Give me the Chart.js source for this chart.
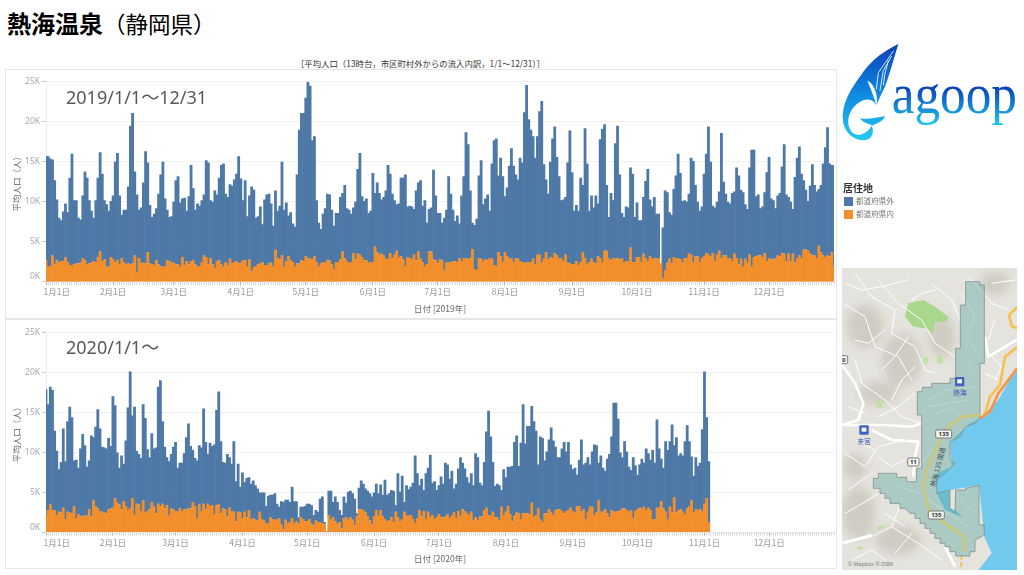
<!DOCTYPE html>
<html lang="ja">
<head>
<meta charset="utf-8">
<title>熱海温泉</title>
<script src="https://cdn.jsdelivr.net/npm/chart.js@4/dist/chart.umd.min.js"></script>
<style>
  html, body { margin: 0; padding: 0; background: #fff; }
  body { width: 1024px; height: 575px; position: relative; overflow: hidden; font-family: "Noto Sans CJK JP", sans-serif; }
  .abs { position: absolute; white-space: nowrap; }
  .panel { position: absolute; left: 5px; width: 832px; height: 250px; box-sizing: border-box; border: 1.5px solid #e6e6e6; }
  canvas { position: absolute; left: 5px; display: block; }
  .period { font-family: "Noto Sans", "Noto Sans CJK JP", sans-serif; font-size: 18px; color: #595959; line-height: 24px; }
  .swatch { position: absolute; left: 844px; width: 9px; height: 9px; }
  .legtext { font-size: 7.6px; color: #777; line-height: 10px; left: 856px; }
</style>
</head>
<body>
<div class="abs" style="left:7px;top:6px;line-height:34px;color:#000"><b style="font-size:24px">熱海温泉</b><span style="font-size:22.5px">（静岡県）</span></div>
<div class="abs" style="left:296px;top:57px;font-size:8.4px;line-height:12px;color:#333">［平均人口（13時台，市区町村外からの流入内訳，1/1～12/31）］</div>

<div class="panel" style="top:69px"></div>
<div class="panel" style="top:319px"></div>
<canvas id="chart2019" width="831" height="249" style="top:70px"></canvas>
<canvas id="chart2020" width="831" height="249" style="top:320px"></canvas>
<div class="abs period" style="left:66px;top:85px">2019/1/1〜12/31</div>
<div class="abs period" style="left:66px;top:335px">2020/1/1〜</div>

<!-- logo -->
<svg class="abs" style="left:835px;top:30px" width="189" height="130" viewBox="0 0 567 390">
  <defs>
    <linearGradient id="logoGrad" gradientUnits="userSpaceOnUse" x1="0" y1="40" x2="0" y2="335">
      <stop offset="0" stop-color="#0b3fb8"/><stop offset="0.5" stop-color="#0f86e0"/><stop offset="1" stop-color="#22cdf2"/>
    </linearGradient>
    <linearGradient id="textGrad" gradientUnits="userSpaceOnUse" x1="0" y1="175" x2="0" y2="292">
      <stop offset="0" stop-color="#0b45bb"/><stop offset="1" stop-color="#1fd0f2"/>
    </linearGradient>
  </defs>
  <path fill="url(#logoGrad)" d="M190 42 C150 62 115 85 85 125 L62 160 C82 150 98 148 108 160 C125 180 128 205 125 225 C135 200 140 190 150 170 C165 130 175 90 190 42 Z"/>
  <g fill="none" stroke="#fff" stroke-width="2.5">
    <path d="M176 62 L130 128 L124 178"/><path d="M170 78 L145 122 L135 182"/><path d="M160 92 L150 130 L145 166"/>
  </g>
  <path fill="url(#logoGrad)" d="M85 128 C45 175 18 225 24 275 C32 318 70 338 100 328 C112 320 118 305 110 287 C100 305 80 320 58 312 C35 298 35 262 50 240 C70 210 105 195 125 225 C115 200 108 172 85 128 Z"/>
  <path fill="url(#logoGrad)" d="M75 265 C95 270 130 262 150 258 C145 275 125 280 112 287 C100 280 85 280 75 265 Z"/>
  <text x="170" y="250" font-family="Liberation Serif, serif" font-size="172" textLength="376" lengthAdjust="spacingAndGlyphs" fill="url(#textGrad)">agoop</text>
</svg>

<!-- legend -->
<div class="abs" style="left:843px;top:181px;font-size:10px;line-height:13px;font-weight:bold;color:#333">居住地</div>
<div class="swatch" style="top:197px;background:#4e79a7"></div>
<div class="abs legtext" style="top:196px">都道府県外</div>
<div class="swatch" style="top:210px;background:#f28e2b"></div>
<div class="abs legtext" style="top:209px">都道府県内</div>

<!-- map -->
<svg class="abs" style="left:842px;top:268px" width="175" height="302" viewBox="21 24 525 906">
  <defs><filter id="soft"><feGaussianBlur stdDeviation="14"/></filter></defs>
  <rect x="21" y="24" width="525" height="906" fill="#e5e3dd"/>
  <g filter="url(#soft)" fill="#cfccc3">
    <ellipse cx="200" cy="300" rx="60" ry="80"/><ellipse cx="90" cy="200" rx="55" ry="65"/>
    <ellipse cx="320" cy="230" rx="40" ry="65"/><ellipse cx="130" cy="400" rx="60" ry="35"/>
    <ellipse cx="70" cy="760" rx="50" ry="80"/><ellipse cx="190" cy="840" rx="70" ry="45"/>
    <ellipse cx="480" cy="70" rx="45" ry="35"/><ellipse cx="60" cy="620" rx="35" ry="40"/>
  </g>
  <path fill="#72c9ee" d="M546 320 L490 420 L435 475 L405 490 L345 545 L350 620 L305 640 L305 700 L330 750 L385 772 L362 750 L345 745 L345 690 L432 676 L448 830 L470 880 L430 930 L546 930 Z"/>
  <path fill="#a9d88c" d="M210 170 L220 130 L265 120 L300 140 L340 170 L335 185 L300 185 L295 220 L270 205 L235 200 Z"/>
  <path fill="#c3e0a3" d="M265 292 h15 v18 h-15 z M305 288 h18 v22 h-18 z M125 422 h16 v22 h-16 z M125 800 l25 -6 v10 l-25 6 z M65 860 h18 v8 h-18 z"/>
  <g fill="none" stroke="#fff" stroke-width="3" stroke-linejoin="round">
    <path d="M60 40 L110 110 L180 150 L170 220 L240 260 L270 330 L300 340"/>
    <path d="M130 60 L190 130 L260 180 L300 250 L360 290"/>
    <path d="M25 130 L90 170 L120 260 L190 290 L230 360"/>
    <path d="M290 70 L350 120 L380 190 M400 50 L470 130 L520 150"/>
    <path d="M60 300 L80 370 L150 420 L200 470 L260 490"/>
    <path d="M30 580 L90 620 L130 560 L210 540 M40 690 L110 640 M30 760 L100 720 L130 700"/>
    <path d="M200 720 L170 800 L250 850 L320 900 M30 850 L110 830 L170 800"/>
    <path d="M470 290 L500 320 L480 360 M450 340 L490 360"/>
    <path d="M270 440 L340 430 L400 420 M290 470 L350 440 L380 470"/>
    <path d="M30 70 L80 90 L140 80 L220 60 M150 210 L100 250 L60 240 M220 230 L180 290 L140 330"/>
    <path d="M240 320 L200 360 L170 420 M130 470 L190 440 L240 400 M300 90 L260 100 L230 120"/>
    <path d="M40 440 L90 460 M130 590 L170 620 L210 600 M60 540 L120 570 M50 900 L110 870 L150 900"/>
    <path d="M230 820 L180 880 M150 760 L210 800 M470 70 L540 60 M480 180 L460 240"/>
    <path d="M280 420 L330 390 L420 380 M300 560 L250 620 M190 680 L260 700 L330 760 M280 720 L400 800 M365 710 L420 760"/>
    <path d="M380 100 L420 170 L390 230 L430 280 M395 300 L420 340"/>
  </g>
  <g fill="none" stroke="#fff" stroke-width="8" stroke-linejoin="round">
    <path d="M22 315 L60 370 L85 430 L70 480 L22 495"/>
    <path d="M22 495 L145 495 L230 500 L260 490"/>
    <path d="M110 510 L170 540 L250 545 L240 590 L235 650"/>
    <path d="M450 230 L460 290 L545 240"/>
    <path d="M22 850 L110 825 M330 860 L360 920"/>
  </g>
  <path fill="none" stroke="#f6c14e" stroke-width="8" d="M546 262 L510 290 L495 375 L465 410 L448 468"/>
  <path fill="none" stroke="#f6c14e" stroke-width="8" d="M546 142 L522 165 L530 198 L546 205"/>
  <path fill="none" stroke="#f8954a" stroke-width="8" d="M546 325 L490 400 L465 455 L435 475"/>
  <path fill="none" stroke="#f6c14e" stroke-width="6" stroke-dasharray="14 8" d="M380 885 L378 930"/>
  <path fill="rgba(100,170,165,0.45)" stroke="#86938f" stroke-width="2.5" d="M392 65 L435 65 L435 75 L448 75 L448 310 L435 310 L435 475 L420 490 L390 500 L375 530 L345 545 L345 600 L360 610 L330 640 L305 660 L305 700 L345 690 L345 745 L360 760 L362 690 L392 690 L392 685 L432 676 L432 795 L448 795 L448 825 L420 840 L420 875 L405 875 L405 888 L362 888 L362 875 L345 875 L345 860 L330 860 L330 850 L315 850 L315 835 L300 835 L300 820 L285 820 L285 805 L270 805 L270 790 L255 790 L255 775 L240 775 L240 760 L225 760 L210 745 L195 745 L195 730 L165 730 L165 715 L150 715 L150 700 L135 700 L135 685 L115 685 L115 655 L130 655 L130 640 L185 640 L185 652 L215 652 L215 665 L245 665 L245 625 L260 625 L260 465 L247 465 L247 395 L262 395 L262 382 L290 382 L290 370 L345 370 L345 355 L362 355 L362 265 L376 265 L376 135 L392 135 Z"/>
  <path fill="none" stroke="#c9c87e" stroke-width="9" stroke-linejoin="round" d="M435 465 L380 470 L340 500 L310 550 L275 630 L265 680 L280 745 L330 790 L385 830 L390 875"/>
  <g fill="#f4f4f0" stroke="#666" stroke-width="2.5">
    <rect x="302" y="510" width="48" height="24" rx="4"/><rect x="280" y="753" width="48" height="24" rx="4"/>
    <rect x="218" y="594" width="34" height="24" rx="4"/><rect x="12" y="287" width="26" height="24" rx="4"/>
  </g>
  <g font-family="Noto Sans, sans-serif" font-size="18" font-weight="bold" fill="#333" text-anchor="middle">
    <text x="326" y="528">135</text><text x="304" y="771">135</text><text x="235" y="612">11</text><text x="26" y="305">0</text>
  </g>
  <g fill="#4361c2">
    <rect x="360" y="351" width="28" height="28" rx="3"/><rect x="73" y="496" width="28" height="28" rx="3"/>
  </g>
  <g fill="#fff"><rect x="367" y="358" width="14" height="12"/><rect x="80" y="503" width="14" height="12"/></g>
  <g font-family="Noto Sans CJK JP, sans-serif" font-size="20" fill="#3d5bb8" text-anchor="middle">
    <text x="374" y="406">熱海</text><text x="87" y="552">来宮</text>
  </g>
  <text x="0" y="0" transform="translate(300,682) rotate(-75)" font-family="Noto Sans CJK JP, sans-serif" font-size="20" fill="#3f4f4c">熱海 135 国道</text>
  <text x="38" y="918" font-family="Noto Sans, sans-serif" font-size="16" fill="#777">© Mapbox © OSM</text>
</svg>

<script>
const monthDays2019 = [31, 28, 31, 30, 31, 30, 31, 31, 30, 31, 30, 31];
const monthDays2020 = [31, 29, 31, 30, 31, 30, 31, 31, 30, 31, 30, 31];
const yTicks = [0, 5, 10, 15, 20, 25];

// 合計の高さ（千人）
const total2019 = [
  15.7,15.7,15.4,15.3,12.7,10.3,8.0,7.7,8.8,9.8,8.7,13,16,10.2,10.2,8,7.8,10.8,13.8,13,10.2,8.9,8,10.2,13,16.2,13.5,10.2,9.7,8.9,10.1,
  10.8,15,16.1,10.8,8.4,9,9,11.9,19.5,21.1,13.8,10.9,9,9.3,12.4,16.3,14.9,9.6,8.1,8.5,9.2,11,13.4,15,10.4,9,8.1,8.2,
  10,12.7,13.2,9.9,10.4,10.5,8.9,10.7,14.6,11.7,9,9.8,9.5,10.2,10.9,15.2,14.9,10.2,10,11.4,10.9,13,14.6,14.8,11,10.6,12.2,12,12.8,13.5,15.7,
  12.9,10.2,12.7,8.2,10.8,11.9,11.5,8,8.2,9.4,7.2,10.3,10.9,11,9.8,7,11.4,8.9,9.5,15,9,9.9,8.3,8.7,7.3,6.9,13.4,19,21.1,21.1,
  23,25,24.5,17.7,18.2,10.2,7.4,6.6,8.5,9.2,11,10.9,9,7,8.6,8.6,10.6,11.1,12.1,9.2,9,8.5,9.3,10,14.1,16.1,10.7,10.1,10.4,8.6,8.9,
  13.6,11.1,12.4,11.1,10.3,10.6,11.4,14.6,13.5,11,10.2,9.7,9.8,13,13,13.4,9.4,9.5,9.4,9.1,11.4,12.4,12.7,9.5,10.2,7.4,9.1,9.3,14,10.8,
  8.6,8.6,7.4,8,9,13.2,11,9,7.6,8.3,7.3,10.8,13.2,18.7,17.2,11.4,7.4,7.1,7.9,13.3,15.2,9.7,10.4,10.9,8.9,14.8,17.7,17.9,13.3,15.5,13.2,
  10.7,11.8,14.5,16.7,14.5,13.4,12.8,15.5,14.9,21.2,24.6,20.3,19,18.2,15.5,18.2,21.3,22.6,14.7,12.8,11,15,17.9,19.4,15.6,13.2,10.2,10.3,10.6,14.9,18.9,
  13.7,8.9,9.6,8.9,13,12.1,19.2,14.8,8.9,10.8,9.3,10.8,9.8,17.8,19.1,19.7,12.1,8.1,11.1,10.2,17.3,19.5,13.4,8.6,8.1,9.4,9.3,14.3,13.5,8.1,
  9.9,7.7,7.7,10.6,12.6,14.1,10.3,9.4,10.6,8.5,8.5,2.3,6.8,11.4,11.2,8.7,8.4,11.6,13.3,16,13.6,10.1,10.2,10,11,15.5,15.1,12.1,10,8.9,9.4,
  13.5,16,19.4,15,9.5,9.3,10,11.3,18.6,12.5,11,10,9.8,11.1,11.3,14.3,13.3,11.5,11.2,9.7,9.1,14.3,16.5,16.5,10.7,10.9,9.2,9.4,11.2,13.7,
  15.6,10.4,10.2,9.2,10.8,11.1,14.4,17.2,10.9,10.6,10,9.1,13.1,15.5,16.9,13.5,12.7,11.5,10.1,12,14.7,12.1,11.3,11.6,12.1,14.8,16.8,19.3,14.8,14.6,14.6
];
const inside2019 = [
  2.7,2.0,2.0,3.3,2.2,2.7,2.5,2.6,2.6,3.1,2.5,2.1,2.1,2.2,2.3,2.3,2.4,3.0,2.7,2.2,2.3,2.4,2.6,2.5,3.1,3.8,2.6,2.8,1.9,1.9,3.1,
  2.8,2.5,2.7,2.2,3.0,2.5,2.2,2.3,2.2,2.3,3.3,1.2,3.0,2.3,2.4,2.3,3.7,2.3,2.2,2.1,2.7,2.2,2.0,1.9,1.9,2.7,2.6,2.4,
  2.4,2.2,2.2,1.9,3.1,2.1,2.6,2.2,2.6,2.7,2.2,1.9,2.0,2.5,3.3,3.1,2.2,3.0,2.2,1.7,2.6,2.7,2.2,1.9,2.5,2.1,2.9,2.3,2.5,2.6,2.3,
  2.4,2.7,2.7,2.0,2.8,1.3,1.8,2.0,2.2,2.3,2.5,2.1,2.1,2.3,2.4,2.0,4.0,3.0,2.8,3.3,1.9,2.6,3.2,2.7,2.5,1.9,2.3,2.3,2.7,2.6,
  3.2,3.0,2.9,2.8,3.2,2.5,1.9,2.3,2.5,2.4,2.7,2.7,2.2,1.6,2.5,2.5,2.8,3.8,3.0,2.6,2.3,2.5,3.6,2.8,3.5,3.4,3.1,2.7,2.7,2.4,2.5,
  2.4,4.4,3.7,3.4,3.5,3.3,2.8,2.9,3.6,3.0,3.4,3.9,3.1,3.2,2.8,2.0,3.1,3.0,2.8,3.4,2.7,3.8,2.9,2.5,2.0,2.2,3.8,3.8,2.8,2.7,
  2.3,2.8,2.7,1.4,2.4,2.5,2.4,2.6,2.6,2.5,3.0,2.6,3.0,2.9,2.9,3.0,4.1,1.6,1.5,3.0,2.9,2.6,2.8,2.7,3.0,2.9,2.1,2.0,3.7,3.2,2.5,
  3.7,3.2,3.0,2.9,2.4,3.0,2.9,2.6,2.5,2.4,2.4,2.5,2.5,2.9,2.2,3.4,3.4,2.4,2.9,3.7,2.8,3.1,3.0,3.6,3.3,2.9,3.0,2.6,3.4,2.4,2.3,
  2.2,2.2,2.6,2.1,2.5,3.7,3.0,2.2,2.5,2.9,2.5,2.3,3.2,3.0,2.5,3.9,3.9,2.9,2.7,3.0,2.9,3.0,2.8,3.0,2.4,2.6,2.6,4.3,2.5,2.5,
  3.1,3.1,2.5,3.5,3.0,2.6,3.2,2.8,3.0,3.0,3.0,2.3,0.5,1.5,2.4,2.9,2.3,3.1,2.9,3.0,2.8,2.4,3.0,3.0,3.5,3.4,2.4,3.2,3.2,2.5,3.0,
  3.2,3.6,3.4,3.2,3.6,2.6,3.4,3.9,3.0,3.3,3.3,2.9,3.0,2.6,3.5,3.0,2.2,2.9,1.9,2.9,2.4,3.4,1.9,3.1,3.2,3.3,3.3,3.1,3.6,2.6,
  3.0,2.8,2.9,2.9,3.3,3.2,3.6,3.5,2.6,3.5,2.6,3.5,2.4,3.0,3.3,3.0,4.0,4.1,3.9,3.6,3.3,3.3,3.0,4.5,3.7,3.3,3.1,3.3,3.2,3.7,2.0
];
const total2020 = [
  17.9,16,18.2,17.8,12.7,10.2,7.9,8.8,13,8.9,13.9,15.7,14.4,9,9.1,8.1,10.5,12.3,10.9,8.2,9,12.1,11.9,13.2,15.4,13,10.7,10.6,10.5,11.8,10.8,
  17,15.9,10,8.1,9.6,8.6,11.5,15.6,20.1,14.6,15.7,10.2,9.8,9.3,16,14.3,10.4,9.4,12.4,10.5,10.6,18.2,19,13.9,10.7,9.4,8.9,9.8,10.7,
  11.3,8.1,8.7,8.7,9.9,11.9,13.6,10.8,10.3,9.3,9,10.9,10.6,15.5,11.3,9.8,11.2,10.8,11,15.3,17.6,11.4,8.8,8.7,9.8,9.4,8.6,11.4,6.4,8.6,5.7,
  7.5,6.3,6.8,6.9,6.1,6.5,5.9,5.5,5,5,5,3.3,4.6,4.7,4.7,4.9,3.6,3.2,3.9,3.8,4.1,4.1,3.8,5.7,3.9,3.9,1.9,3.2,3.2,3.3,
  3.6,3.6,3.4,2.2,2.8,2.6,4.2,4.5,1.3,0.2,5.2,5.2,3.8,4.5,3.8,2.8,2.2,4.5,3.7,5.1,5.2,4.9,4.2,2.4,5.6,6.5,6.1,5.5,5.2,4.9,4.5,
  5,6.1,4.9,6,4.7,6.6,4.7,4.9,5.3,5.2,3.4,7.4,5.1,7.1,3.8,5.9,5.4,5.7,6.2,9.6,7.4,5.9,6.7,5.3,7.4,8.1,9.7,6.2,6.4,5.3,
  5.9,7,6.1,8.7,8.5,6.7,7.7,5.5,6.1,8,9.4,8.7,8,6.9,6.2,7.4,5.9,9.9,9.4,6.2,5.9,8.8,12.6,15.2,12,8.8,5.8,6.1,5.9,5.3,7.9,
  6.9,8.2,8.2,8.3,11.3,12.1,8.3,11.2,16,11.1,13.3,13.3,15.8,13.9,12.7,8.5,12,11.8,9,10.1,11.6,13.1,11.5,10.7,9.4,9.4,10.5,11.3,10.1,11.3,8.5,
  7.9,8.1,7.2,9.1,11.6,8.5,8.7,9.4,8.5,10.1,11,10.9,8.7,9.6,8.1,7.7,9.2,9.8,12,16.2,16.2,14.2,10,9.4,11.4,10.1,8.2,7.8,9.4,8.4,
  7.2,8.5,9.2,8.7,10.5,9.9,9.1,10.3,8.7,14.1,10.5,9.2,8.1,11.4,10.3,11.4,13.5,10.9,11.9,9.6,9.9,9.6,11.4,13.4,11.4,9.5,7.1,9.4,8.3,8.7,12.9,
  20.1,14.4,8.9
];
const inside2020 = [
  2.2,2.8,3.5,2.8,2.8,2.2,2.6,2.5,3.1,1.7,2.6,2.5,2.4,3.3,1.8,2.3,2.0,2.1,2.1,2.1,2.9,2.0,4.0,3.3,3.0,2.7,2.6,2.5,2.4,2.9,3.0,
  3.1,4.3,3.7,3.5,2.9,3.9,3.3,2.8,3.0,4.3,2.2,3.6,3.5,2.7,4.0,2.5,2.7,2.9,3.8,3.2,2.4,3.6,3.3,3.6,3.0,3.4,2.1,3.0,2.9,
  2.7,2.6,3.0,2.7,2.9,2.9,3.0,3.0,3.8,3.3,1.8,3.5,2.7,3.6,2.9,3.6,3.3,3.4,2.3,3.4,3.5,2.4,3.0,2.9,2.0,3.1,2.7,2.6,1.4,2.6,2.5,
  1.8,2.6,1.9,2.8,1.7,1.8,1.6,1.5,2.6,1.7,1.5,1.2,1.1,1.9,1.7,1.6,1.6,1.8,1.0,0.4,1.6,1.1,1.3,1.8,1.1,1.4,1.1,1.9,1.7,1.4,
  1.4,1.7,1.1,0.9,1.5,1.3,1.3,1.2,1.0,0.2,2.2,1.6,1.9,1.4,1.1,1.3,0.5,1.8,1.9,1.6,1.9,1.6,0.9,2.0,2.9,2.9,2.8,2.5,2.0,1.5,1.0,
  2.0,2.8,2.1,2.8,2.0,1.7,1.4,1.5,1.9,1.3,2.6,1.9,1.4,1.7,2.6,2.1,2.1,2.2,1.7,1.2,1.8,2.8,2.0,2.7,1.7,2.6,1.9,2.2,1.7,1.9,
  2.3,1.9,1.9,2.0,2.3,1.8,2.1,2.5,1.8,2.7,2.0,2.9,2.7,2.4,2.2,2.6,1.5,1.9,1.5,2.0,2.0,2.8,3.1,2.2,2.1,2.6,1.9,1.9,1.5,3.2,2.1,
  2.6,3.3,2.3,1.4,2.1,2.5,2.4,1.7,2.4,2.4,2.4,2.3,3.7,1.9,2.2,3.0,1.6,1.3,2.4,2.4,2.9,2.5,2.1,2.8,2.9,2.9,2.7,2.4,2.7,2.8,3.1,
  2.7,2.5,3.3,3.3,2.6,2.9,1.7,2.6,3.2,3.2,2.1,2.5,4.0,2.6,2.6,2.9,2.4,1.9,2.8,2.6,2.6,2.7,2.8,3.0,3.0,2.8,2.6,2.8,1.8,2.7,
  2.9,3.1,3.0,3.2,2.8,3.1,2.8,1.7,1.7,3.1,3.1,3.9,3.0,2.6,1.6,3.2,2.5,4.4,2.5,2.8,2.9,2.6,2.3,3.0,3.3,4.0,2.5,2.9,2.8,2.9,2.6,
  3.6,4.3,1.3
];

function makeDays(monthDays) {
  const days = [];
  monthDays.forEach((n, m) => {
    for (let d = 1; d <= n; d++) days.push(`${m + 1}月${d}日`);
  });
  return days;
}

function drawChart(id, monthDays, total, inside, xTitle, topPad) {
  const days = makeDays(monthDays);
  const outside = total.map((t, i) => Math.max(t - inside[i], 0));
  return new Chart(document.getElementById(id), {
    type: "bar",
    data: {
      labels: days,
      datasets: [
        { label: "都道府県内", data: inside, backgroundColor: "#f28e2b", borderWidth: 0 },
        { label: "都道府県外", data: outside, backgroundColor: "#4e79a7", borderWidth: 0 }
      ]
    },
    options: {
      responsive: false,
      animation: false,
      events: [],
      layout: { padding: { top: topPad, left: 0, right: 0, bottom: 0 } },
      plugins: { legend: { display: false }, tooltip: { enabled: false } },
      datasets: { bar: { categoryPercentage: 1, barPercentage: 1.3 } },
      scales: {
        x: {
          stacked: true,
          offset: false,
          afterFit: (s) => { s.height = 249 - topPad - 200.2; },
          grid: {
            offset: false,
            drawOnChartArea: false,
            tickLength: 3,
            tickColor: (c) => (c.index !== undefined && days[c.index] && days[c.index].endsWith("月1日") ? "#aaa" : "#d8d8d8")
          },
          border: { color: "#e6e6e6" },
          ticks: {
            autoSkip: false,
            maxRotation: 0,
            minRotation: 0,
            padding: 2,
            color: "#999",
            font: { size: 8.5, family: "Noto Sans CJK JP" },
            callback: (v, i) => {
              if (i === 0) return "";
              if (i === 5) return days[0]; // 先頭のラベルは軸の内側に寄せる
              return days[i].endsWith("月1日") ? days[i] : "";
            }
          },
          title: { display: true, text: xTitle, color: "#666", font: { size: 8.5, family: "Noto Sans CJK JP" }, padding: { top: 0, bottom: 5 } }
        },
        y: {
          stacked: true,
          min: 0,
          max: 25,
          afterFit: (s) => { s.width = 41; },
          afterBuildTicks: (s) => { s.ticks = yTicks.map((v) => ({ value: v })); },
          grid: { color: "#f0f0f0", tickColor: "#ccc", tickLength: 4 },
          border: { color: "#eeeeee" },
          ticks: {
            padding: 2,
            color: "#aaa",
            font: { size: 8.5, family: "Noto Sans" },
            callback: (v) => (v === 0 ? ["0K", ""] : `${v}K`)
          },
          title: { display: true, text: "平均人口（人）", color: "#666", font: { size: 8.5, family: "Noto Sans CJK JP" }, padding: { top: 7, bottom: 0 } }
        }
      }
    }
  });
}

drawChart("chart2019", monthDays2019, total2019, inside2019, "日付 [2019年]", 11.7);
drawChart("chart2020", monthDays2020, total2020, inside2020, "日付 [2020年]", 12.3);
</script>
</body>
</html>
